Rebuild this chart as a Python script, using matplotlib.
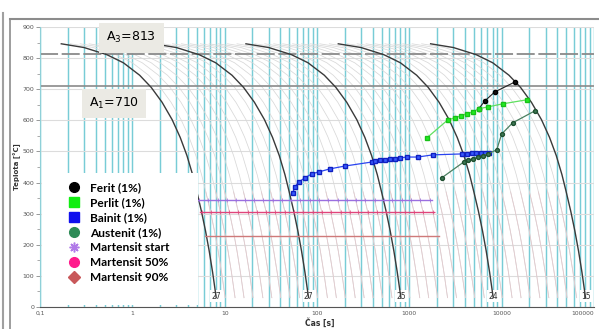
import numpy as np
import matplotlib.pyplot as plt
import matplotlib.ticker as mtick
from matplotlib.lines import Line2D
from matplotlib.patches import Rectangle

# base cooling curve (fastest labelled rate): time [s], temperature [°C]
t_base = [0.17, 0.3, 0.53, 0.8, 1.2, 1.6, 2.1, 2.7, 3.3, 3.9, 4.5, 5.0, 5.6, 6.2, 6.8, 7.4, 8.1]
T_base = [846, 834, 811, 785, 745, 706, 658, 602, 545, 487, 425, 370, 308, 245, 180, 112, 30]

# time multipliers of the labelled curves and hardness at their ends
main_shift = [1, 10, 100, 1000, 10000]
main_hard = ['27', '27', '25', '24', '15']

# thin curves in between
thin_steps = [1.25, 1.6, 2, 2.5, 3.2, 4, 5, 6.3, 8]
thin_decades = [1, 10, 100, 1000]

time_ticks = [0.1, 1, 10, 100, 1000, 10000, 100000]
time_labels = ['0,1', '1', '10', '100', '1000', '10000', '100000']

A3 = 813
A1 = 710

ferit_t = [13840, 8400, 6550, 5640]
ferit_T = [723, 691, 662, 637]

perlit_t = [1540, 2600, 3100, 3600, 4180, 4850, 5640, 7050, 10260, 18660]
perlit_T = [543, 601, 608, 614, 621, 627, 637, 643, 653, 666]

bainit_t = [54.7, 57.5, 63.6, 73.8, 87.9, 104, 138, 200, 392, 422, 479, 542, 614, 695,
            788, 938, 1233, 1792, 3690, 4180, 4730, 5230, 5930, 6550, 7230]
bainit_T = [367, 386, 402, 415, 428, 434, 444, 453, 466, 469, 473, 473, 476, 476,
            479, 482, 482, 489, 492, 492, 495, 495, 495, 495, 495]

austenit_t = [2240, 3880, 4290, 4850, 5500, 6220, 7050, 8830, 10000, 13150, 22750]
austenit_T = [415, 466, 473, 476, 482, 486, 492, 505, 556, 592, 630]

ms_T, m50_T, m90_T = 344, 305, 227
ms_span = [5.2, 1750]
m50_span = [5.4, 1830]
m90_span = [6.1, 2080]


def crossings(T, span, shifts):
    # where the cooling curves pass a given temperature
    t0 = np.interp(T, T_base[::-1], t_base[::-1])
    ts = [t0 * f for f in shifts]
    return [t for t in ts if span[0] <= t <= span[1]]


fig = plt.figure(figsize=(5.99, 3.29), dpi=100)
ax = fig.add_axes([40 / 599, 22 / 329, 554 / 599, 280 / 329])
ax.set_xscale('log')
ax.set_xlim(0.1, 1e5)
ax.set_ylim(0, 900)

ax.set_xticks(time_ticks)
ax.set_xticklabels(time_labels)
ax.xaxis.set_minor_locator(mtick.LogLocator(base=10, subs=np.arange(2, 10), numticks=30))
ax.xaxis.set_minor_formatter(mtick.NullFormatter())
ax.get_xticklabels()[-1].set_ha('right')
ax.yaxis.set_major_locator(mtick.MultipleLocator(100))
ax.yaxis.set_minor_locator(mtick.MultipleLocator(50))

ax.grid(which='both', axis='x', color='#78ccd6', lw=1.05)
ax.grid(which='major', axis='y', color='#dcdcdc', lw=0.8)
ax.set_axisbelow(True)

ax.tick_params(axis='y', which='major', length=3, width=0.6, color='#888888',
               labelsize=4.5, labelcolor='#555555', pad=1)
ax.tick_params(axis='y', which='minor', length=2, width=0.5, color='#888888')
ax.tick_params(axis='x', which='both', length=0, labelsize=4.3, labelcolor='#555555', pad=3)
for s in ['top', 'right']:
    ax.spines[s].set_visible(False)
ax.spines['left'].set_color('#8fd0d8')
ax.spines['bottom'].set_color('#555555')

# thin cooling curves, pinkish below the martensite region
all_shifts = []
for d in thin_decades:
    for s in thin_steps:
        f = d * s
        all_shifts.append(f)
        tt = np.array(t_base) * f
        TT = np.array(T_base)
        ax.plot(tt, TT, color='#d8d8d8', lw=0.55, zorder=1.5)
        low = TT <= 370
        ax.plot(tt[low], TT[low], color='#e3cace', lw=0.55, zorder=1.6)

# labelled cooling curves
for f, h in zip(main_shift, main_hard):
    all_shifts.append(f)
    ax.plot(np.array(t_base) * f, T_base, color='#3a3a3a', lw=1.0, zorder=3)
    ax.text(t_base[-1] * f, 35, h, fontsize=5.5, color='#333333', ha='center', va='center',
            zorder=2.5, bbox=dict(facecolor='white', edgecolor='none', pad=0.8))

# critical temperatures
ax.axhline(A3, color='#8a8a8a', lw=1.3, ls=(0, (10, 2)), zorder=2)
ax.axhline(A1, color='#8a8a8a', lw=1.2, zorder=2)
ax.text(0.97, 866, 'A$_3$=813', fontsize=9, ha='center', va='center', zorder=6,
        bbox=dict(boxstyle='square,pad=0.6', facecolor='#ebeae4', edgecolor='none'))
ax.text(0.63, 653, 'A$_1$=710', fontsize=9, ha='center', va='center', zorder=6,
        bbox=dict(boxstyle='square,pad=0.55', facecolor='#ebeae4', edgecolor='none'))

# martensite lines
ax.plot(ms_span, [ms_T, ms_T], color='#9b6fe0', lw=1.0, zorder=4)
ax.plot(m50_span, [m50_T, m50_T], color='#e0457b', lw=1.0, zorder=4)
ax.plot(m90_span, [m90_T, m90_T], color='#cf7a7a', lw=1.0, zorder=4)
mx = crossings(ms_T, ms_span, all_shifts)
ax.plot(mx, [ms_T] * len(mx), ls='none', marker='+', ms=2.5, mew=0.5, color='#9b6fe0', zorder=4)
mx = crossings(m50_T, m50_span, all_shifts)
ax.plot(mx, [m50_T] * len(mx), ls='none', marker='+', ms=2.5, mew=0.5, color='#e0457b', zorder=4)

# transformation start lines
ax.plot(ferit_t, ferit_T, color='#222222', lw=0.8, marker='o', ms=3,
        mfc='#111111', mec='#000000', zorder=5)
ax.plot(perlit_t, perlit_T, color='#5fe05f', lw=0.9, marker='s', ms=3,
        mfc='#22ee22', mec='#19c019', zorder=5)
ax.plot(bainit_t, bainit_T, color='#2a44f0', lw=0.9, marker='s', ms=2.8,
        mfc='#3a5cff', mec='#1020c0', zorder=5)
ax.plot(austenit_t, austenit_T, color='#4b8060', lw=0.9, marker='o', ms=2.8,
        mfc='#3f7a55', mec='#1f4f30', zorder=5)

# legend on a white panel
ax.add_patch(Rectangle((0.004, 0.007), 0.282, 0.472, transform=ax.transAxes,
                       facecolor='white', edgecolor='none', zorder=6))
handles = [
    Line2D([], [], ls='none', marker='o', ms=7, color='#000000'),
    Line2D([], [], ls='none', marker='s', ms=7, color='#11ee11'),
    Line2D([], [], ls='none', marker='s', ms=7, color='#1010ee'),
    Line2D([], [], ls='none', marker='o', ms=7, color='#2e8b57'),
    Line2D([], [], ls='none', marker=(8, 2, 0), ms=7, mew=1.1, color='#b07ae8'),
    Line2D([], [], ls='none', marker='o', ms=7, color='#ff1a8c'),
    Line2D([], [], ls='none', marker='D', ms=6, color='#c8585a'),
]
labels = ['Ferit (1%)', 'Perlit (1%)', 'Bainit (1%)', 'Austenit (1%)',
          'Martensit start', 'Martensit 50%', 'Martensit 90%']
leg = ax.legend(handles, labels, loc='upper left', bbox_to_anchor=(0.045, 0.445),
                frameon=False, borderpad=0, borderaxespad=0, handlelength=1.5,
                handletextpad=0.6, labelspacing=0.33,
                prop=dict(family=['Liberation Sans Narrow', 'Lato'], weight='bold', size=8.6))
leg.set_zorder(7)

fig.text(17 / 599, 1 - 167 / 329, 'Teplota [°C]', rotation=90, fontsize=5, weight='bold',
         color='#333333', ha='center', va='center')
fig.text(320 / 599, 1 - 323 / 329, 'Čas [s]', fontsize=5.5, weight='bold',
         color='#333333', ha='center', va='center')

# window frame
fig.add_artist(Line2D([10 / 599, 1], [1 - 19 / 329, 1 - 19 / 329], color='#8c8c8c', lw=1.5))
fig.add_artist(Line2D([10 / 599, 10 / 599], [0, 1 - 19 / 329], color='#8c8c8c', lw=1.2))
fig.add_artist(Line2D([2.5 / 599, 2.5 / 599], [0, 1 - 13 / 329], color='#a0a0a0', lw=1.5))

fig.savefig('out.png', dpi=100)
